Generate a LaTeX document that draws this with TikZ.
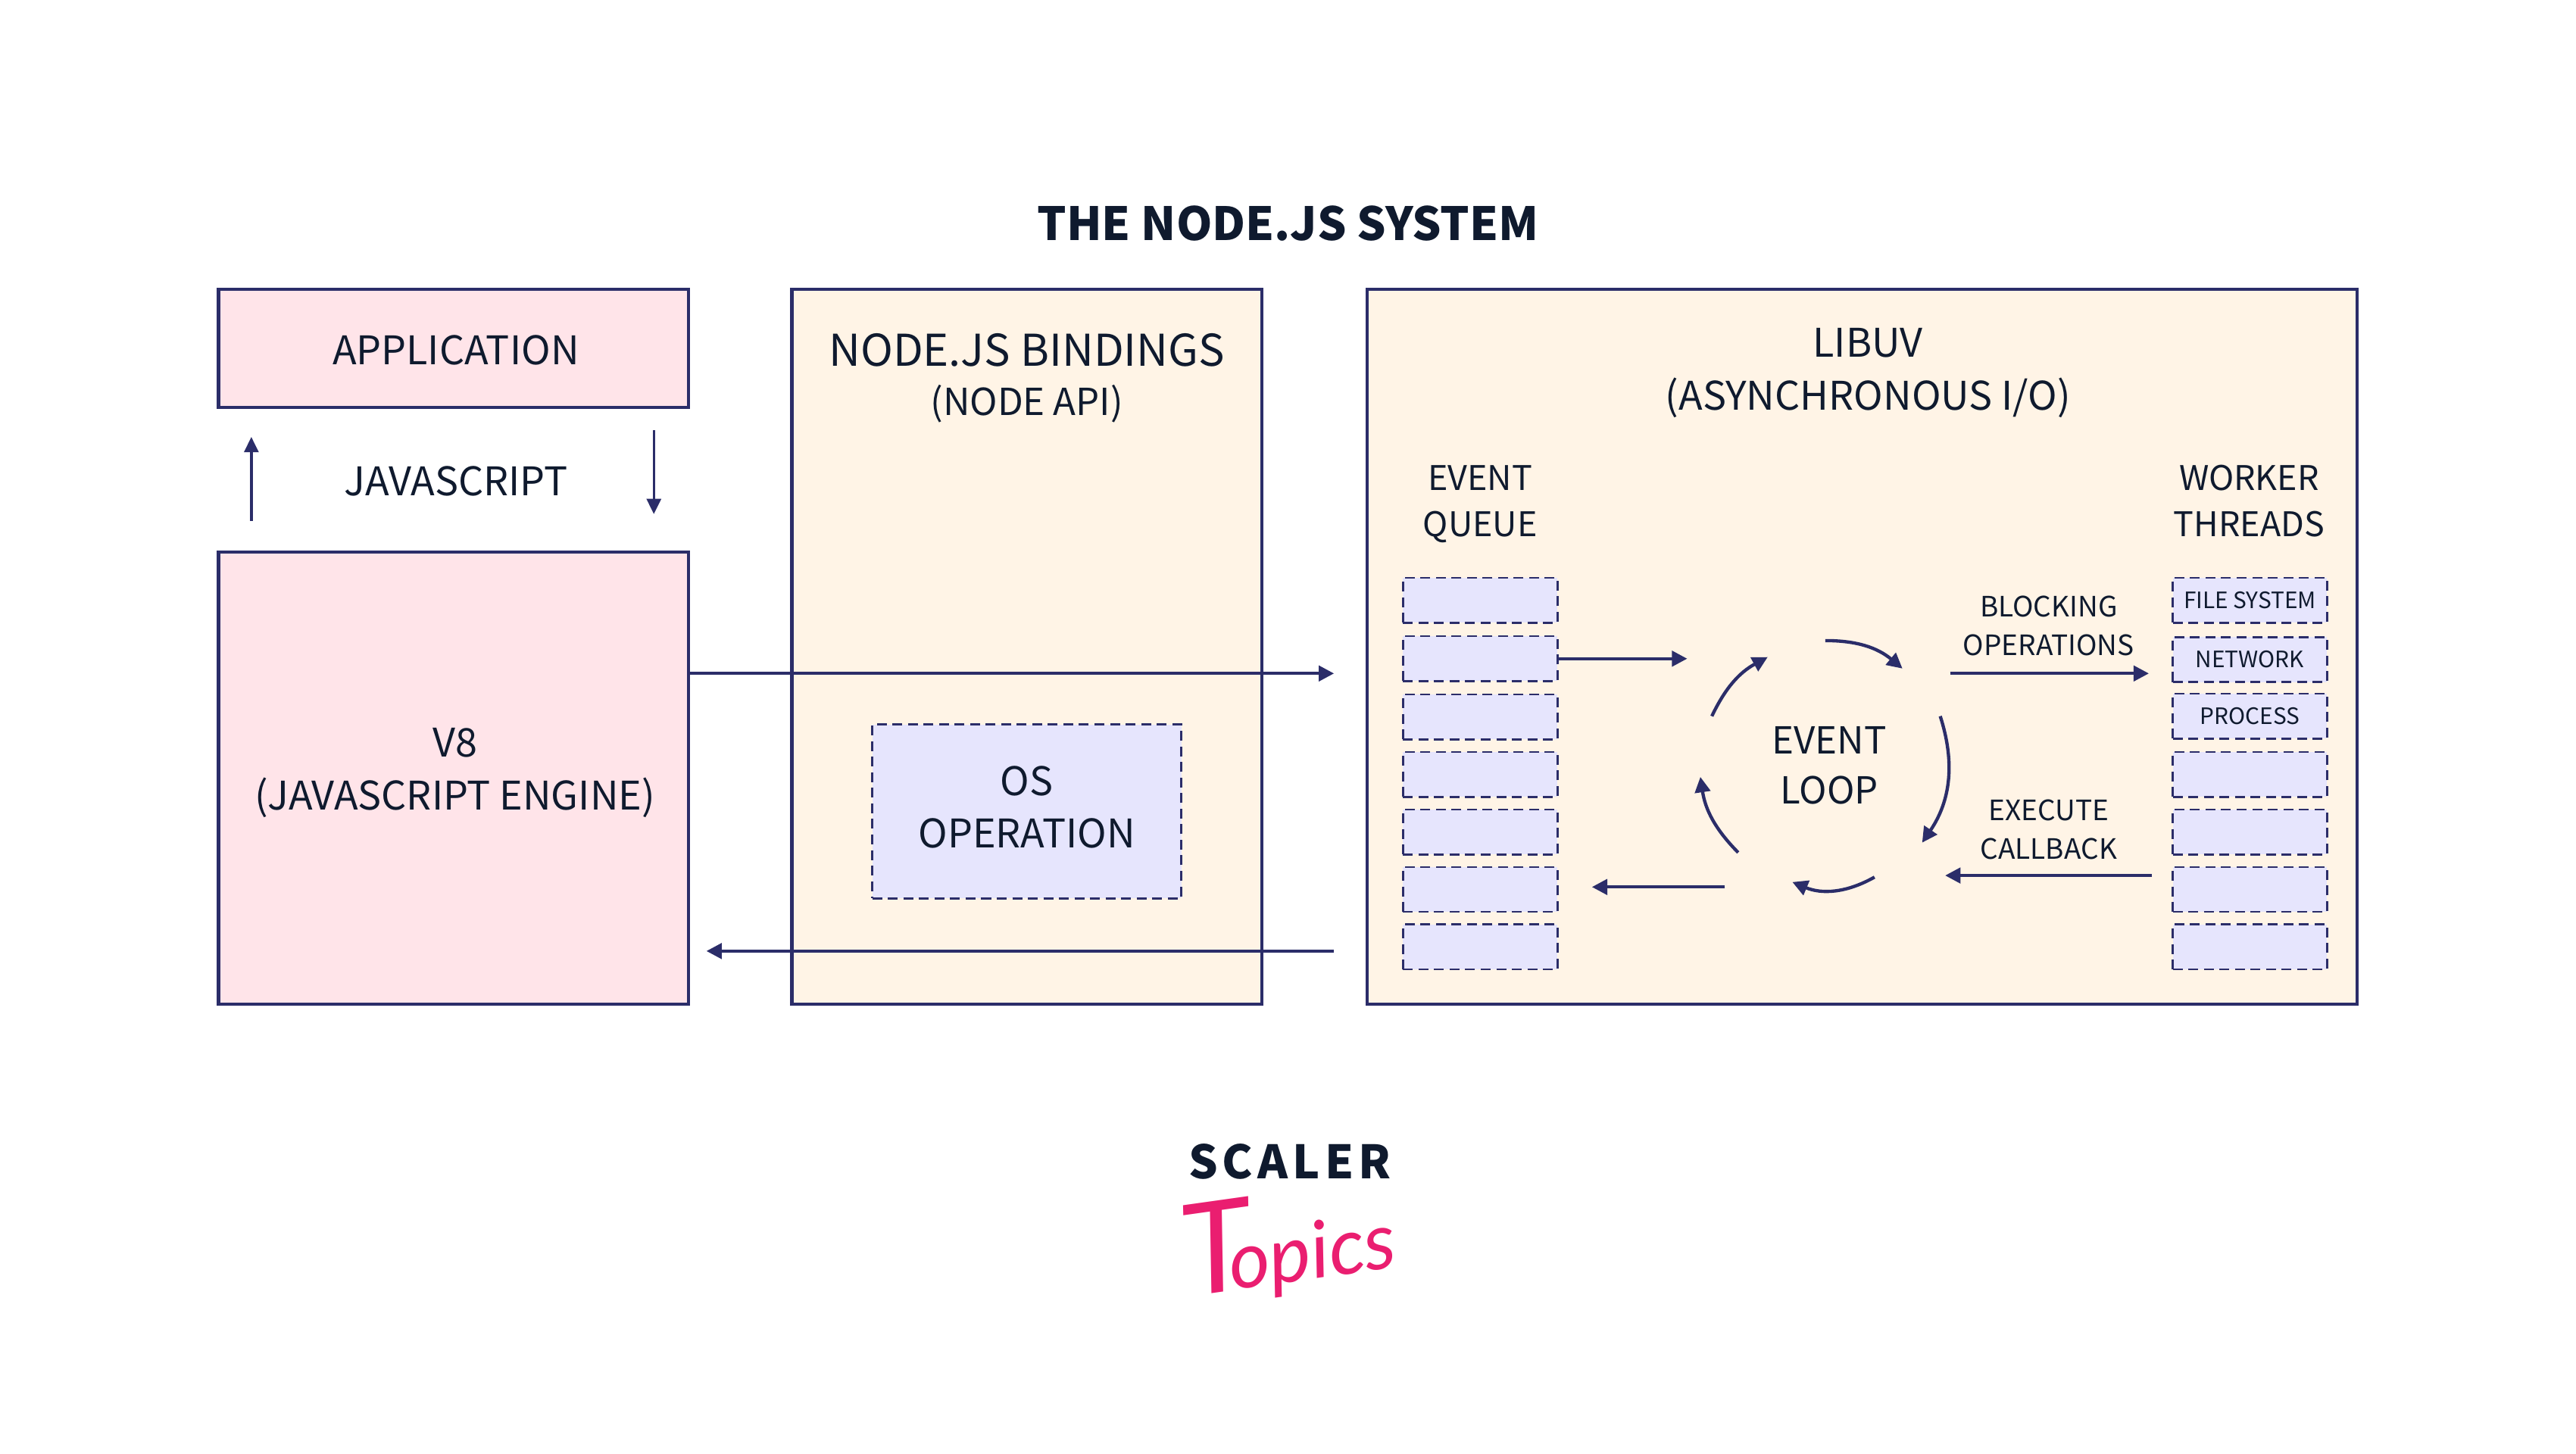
\documentclass[tikz,border=0pt]{standalone}
\usepackage{fontspec}
\setmainfont{Noto Sans CJK SC}
\newfontfamily\logofont{Lato}
\usetikzlibrary{arrows.meta}
\definecolor{navy}{HTML}{2B2D69}
\definecolor{ink}{HTML}{0F1A2E}
\definecolor{rosefill}{HTML}{FFE4E9}
\definecolor{creamfill}{HTML}{FFF4E6}
\definecolor{lavfill}{HTML}{E6E5FD}
\definecolor{logopink}{HTML}{EA1E70}
\tikzset{every picture/.style={line width=0.75pt},
  solidbox/.style={draw=navy,line width=1.5pt,inner sep=0pt,text=ink},
  dashbox/.style={draw=navy,fill=lavfill,line width=0.9pt,dash pattern=on 4.5pt off 2.6pt,inner sep=0pt,text=ink},
  queuebox/.style={dashbox,minimum width=70.5pt,minimum height=20.5pt},
  biglabel/.style={text=ink,align=center,inner sep=0pt,font=\fontsize{18}{24}\selectfont},
  midlabel/.style={text=ink,align=center,inner sep=0pt,font=\fontsize{15.5}{21}\selectfont},
  looplabel/.style={text=ink,align=center,inner sep=0pt,font=\fontsize{17}{22.5}\selectfont},
  smalllabel/.style={text=ink,align=center,inner sep=0pt,font=\fontsize{12.8}{17.5}\selectfont},
  tinylabel/.style={text=ink,inner sep=0pt,font=\fontsize{10.3}{12}\selectfont},
  flow/.style={draw=navy,line width=1.5pt,-{Triangle[length=7pt,width=7pt]}},
  thinflow/.style={draw=navy,line width=1.2pt,-{Triangle[length=7pt,width=6.5pt]}}}
\begin{document}
\begin{tikzpicture}[x=0.75pt,y=0.75pt,yscale=-1,xscale=1]
\useasboundingbox (0,0) rectangle (1568,885);

% Title
\node[text=ink,inner sep=0pt,font=\fontsize{20.9}{24}\bfseries] (title) at (784,136) {THE NODE.JS SYSTEM};

% Left column
\node[solidbox,fill=rosefill,minimum width=214.5pt,minimum height=54pt] (application) at (276,212) {};
\node[biglabel] (applabel) at (277.5,213) {APPLICATION};
\node[solidbox,fill=rosefill,minimum width=214.5pt,minimum height=206.5pt] (v8) at (276,473.7) {};
\node[biglabel] (v8label) at (277,470.5) {V8\\(JAVASCRIPT ENGINE)};
\node[biglabel] (javascript) at (277.5,293) {JAVASCRIPT};

% Bindings
\node[solidbox,fill=creamfill,minimum width=214.5pt,minimum height=326.5pt] (bindings) at (625,393.7) {};
\node[biglabel,font=\fontsize{20}{24}\selectfont] (bindingstitle) at (625,213) {NODE.JS BINDINGS};
\node[midlabel,font=\fontsize{17}{24}\selectfont] (nodeapi) at (625,246) {(NODE API)};
\node[dashbox,minimum width=141pt,minimum height=79.5pt] (osop) at (625,494) {};
\node[biglabel] (oslabel) at (625,491.5) {OS\\OPERATION};

% Libuv
\node[solidbox,fill=creamfill,minimum width=452pt,minimum height=326.5pt] (libuv) at (1133.5,393.7) {};
\node[biglabel] (libuvtitle) at (1137,227) {LIBUV\\(ASYNCHRONOUS I/O)};
\node[midlabel] (eventqueue) at (901,307) {EVENT\\QUEUE};
\node[midlabel] (workerthreads) at (1369,305) {WORKER\\THREADS};
\node[looplabel] (eventloop) at (1113.5,466) {EVENT\\LOOP};
\node[smalllabel] (blocking) at (1247,381) {BLOCKING\\OPERATIONS};
\node[smalllabel] (callback) at (1247,505) {EXECUTE\\CALLBACK};

% Queues
\foreach \n/\y in {1/365.5,2/401,3/436.5,4/471.5,5/506.5,6/541.5,7/576.5}{
  \node[queuebox] (queue\n) at (901,\y) {};
}
\node[queuebox,tinylabel] (worker1) at (1369.5,365.5) {FILE SYSTEM};
\node[queuebox,tinylabel] (worker2) at (1369.5,401.5) {NETWORK};
\node[queuebox,tinylabel] (worker3) at (1369.5,436) {PROCESS};
\foreach \n/\y in {4/471.5,5/506.5,6/541.5,7/576.5}{
  \node[queuebox] (worker\n) at (1369.5,\y) {};
}

% Free ends
\coordinate (upa) at (153,317);
\coordinate (upb) at (153,266);
\coordinate (downa) at (398,262);
\coordinate (downb) at (398,313);
\coordinate (outa) at (419,410);
\coordinate (outb) at (812,410);
\coordinate (backa) at (812,579);
\coordinate (backb) at (430,579);
\coordinate (intoloop) at (1027,401);
\coordinate (fromloopa) at (1050,540);
\coordinate (fromloopb) at (969,540);
\coordinate (blocka) at (1187,410);
\coordinate (blockb) at (1308,410);
\coordinate (execa) at (1310,533);
\coordinate (execb) at (1184,533);
\coordinate (loopa) at (1042,436);
\coordinate (loopb) at (1076,400);
\coordinate (loopc) at (1111,390);
\coordinate (loopd) at (1158,407);
\coordinate (loope) at (1181,436);
\coordinate (loopf) at (1170,513);
\coordinate (loopg) at (1141,534);
\coordinate (looph) at (1091,537);
\coordinate (loopi) at (1058,519);
\coordinate (loopj) at (1035,473);

% Connection
\draw[thinflow] (upa) -- (upb);
\draw[thinflow] (downa) -- (downb);
\draw[flow] (outa) -- (outb);
\draw[flow] (backa) -- (backb);
\draw[flow] (queue2.east) -- (intoloop);
\draw[flow] (fromloopa) -- (fromloopb);
\draw[flow] (blocka) -- (blockb);
\draw[flow] (execa) -- (execb);
\draw[flow] (loopa) to[bend right=18] (loopb);
\draw[flow] (loopc) to[bend right=20] (loopd);
\draw[flow] (loope) to[bend right=26] (loopf);
\draw[flow] (loopg) to[bend right=26] (looph);
\draw[flow] (loopi) to[bend right=18] (loopj);

% Logo
\node[text=ink,inner sep=0pt,font={\fontsize{21}{24}\bfseries\addfontfeature{LetterSpace=10}}] (scaler) at (785,707) {SCALER};
\node[text=logopink,inner sep=0pt,rotate=8,font={\logofont\itshape\fontsize{36}{36}\selectfont}] (topics) at (784,757) {{\fontsize{58}{58}\selectfont T}\kern-11pt opics};

\end{tikzpicture}
\end{document}
